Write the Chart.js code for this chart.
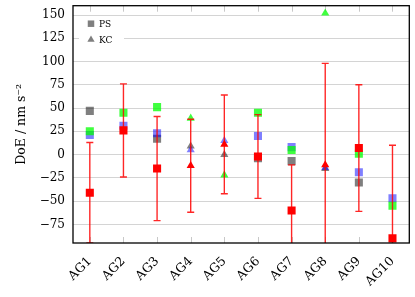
<!DOCTYPE html>
<html>
<head>
<meta charset="utf-8">
<script src="https://cdn.jsdelivr.net/npm/chart.js@4.4.0/dist/chart.umd.min.js"></script>
<style>
  html, body { margin: 0; padding: 0; background: #fff; }
  #wrap { width: 415px; height: 297px; position: relative; }
</style>
</head>
<body>
<div id="wrap"><canvas id="doeChart"></canvas></div>
<script>
// categories and which method each group belongs to (PS = squares, KC = triangles)
const categories = ['AG1', 'AG2', 'AG3', 'AG4', 'AG5', 'AG6', 'AG7', 'AG8', 'AG9', 'AG10'];
const method = ['PS', 'PS', 'PS', 'KC', 'KC', 'PS', 'PS', 'KC', 'PS', 'PS'];

// values (nm s^-2)
const grayValues = [47, null, 17, 9, 0, -4, -7, -15, -30, null];
const blueValues = [21, 31, 23, 5, 15, 20, 8, -14, -19, -47];
const greenValues = [25, 45, 51, 39, -22, 45, 5, 152, 1, -55];
const redValues = [-41, 26, -15, -12, 11, -2, -60, -11, 7, -90];
const redError = [54, 50, 56, 50, 53, 45, 49, 109, 68, 100];

const yMin = -95;
const yMax = 160;
const yStep = 25;

Chart.defaults.font.family = "'DejaVu Serif', serif";
Chart.defaults.color = '#000';

const styles = method.map(m => m === 'PS' ? 'rect' : 'triangle');
const radii = method.map(m => m === 'PS' ? 5.7 : 4.7);

function series(label, data, color, order) {
    return {
        label: label,
        data: data,
        showLine: false,
        pointStyle: styles,
        pointRadius: radii,
        pointHoverRadius: radii,
        pointBorderWidth: 0,
        backgroundColor: color,
        borderColor: color,
        order: order
    };
}

// red error bars, drawn through the scales
const errorBars = {
    id: 'errorBars',
    afterDatasetsDraw(chart) {
        const { ctx, chartArea, scales: { x, y } } = chart;
        ctx.save();
        ctx.beginPath();
        ctx.rect(chartArea.left, chartArea.top, chartArea.right - chartArea.left, chartArea.bottom - chartArea.top);
        ctx.clip();
        ctx.strokeStyle = 'rgba(255,0,0,0.85)';
        ctx.lineWidth = 1.4;
        redValues.forEach((v, i) => {
            const px = x.getPixelForValue(i);
            const top = y.getPixelForValue(v + redError[i]);
            const bot = y.getPixelForValue(v - redError[i]);
            ctx.beginPath();
            ctx.moveTo(px, top); ctx.lineTo(px, bot);
            ctx.moveTo(px - 3.5, top); ctx.lineTo(px + 3.5, top);
            ctx.moveTo(px - 3.5, bot); ctx.lineTo(px + 3.5, bot);
            ctx.stroke();
        });
        ctx.restore();
    }
};

// inner tick marks on x and the black frame
const frame = {
    id: 'frame',
    beforeDatasetsDraw(chart) {
        const { ctx, chartArea, scales: { x } } = chart;
        ctx.save();
        ctx.strokeStyle = '#c8c8c8';
        ctx.lineWidth = 1;
        x.ticks.forEach((t, i) => {
            const px = Math.round(x.getPixelForTick(i)) + 0.5;
            ctx.beginPath();
            ctx.moveTo(px, chartArea.top); ctx.lineTo(px, chartArea.top + 6);
            ctx.moveTo(px, chartArea.bottom); ctx.lineTo(px, chartArea.bottom - 6);
            ctx.stroke();
        });
        ctx.restore();
    },
    afterDraw(chart) {
        const { ctx, chartArea } = chart;
        ctx.save();
        ctx.strokeStyle = '#000';
        ctx.lineWidth = 1.3;
        ctx.strokeRect(chartArea.left, chartArea.top, chartArea.right - chartArea.left, chartArea.bottom - chartArea.top);
        ctx.restore();
    }
};

// small legend box in the top left corner
const legendBox = {
    id: 'legendBox',
    afterDatasetsDraw(chart) {
        const { ctx, chartArea } = chart;
        const x0 = chartArea.left + 6;
        const y0 = chartArea.top + 11;
        ctx.save();
        ctx.fillStyle = '#fff';
        ctx.fillRect(x0, y0, 45, 31);
        const entries = [['PS', 'rect', 4.6], ['KC', 'triangle', 4.2]];
        entries.forEach((e, i) => {
            const cy = y0 + 7 + i * 16;
            ctx.fillStyle = 'rgba(0,0,0,0.5)';
            ctx.strokeStyle = 'rgba(0,0,0,0)';
            Chart.helpers.drawPoint(ctx, { pointStyle: e[1], radius: e[2], borderWidth: 0 }, x0 + 12, cy);
            ctx.fillStyle = '#000';
            ctx.font = "9px 'DejaVu Serif', serif";
            ctx.textBaseline = 'middle';
            ctx.fillText(e[0], x0 + 20, cy + 0.5);
        });
        ctx.restore();
    }
};

new Chart(document.getElementById('doeChart'), {
    type: 'line',
    data: {
        labels: categories,
        datasets: [
            series('gray', grayValues, 'rgba(0,0,0,0.5)', 3),
            series('blue', blueValues, 'rgba(0,0,255,0.5)', 2),
            series('green', greenValues, 'rgba(0,255,0,0.75)', 1),
            series('red', redValues, '#ff0000', 0)
        ]
    },
    options: {
        responsive: true,
        maintainAspectRatio: false,
        animation: false,
        layout: { padding: { top: 2, right: 2, left: 0, bottom: 0 } },
        plugins: {
            legend: { display: false },
            tooltip: { enabled: false }
        },
        scales: {
            x: {
                offset: true,
                grid: { display: false, drawTicks: false },
                border: { display: false },
                ticks: {
                    maxRotation: 45,
                    minRotation: 45,
                    padding: 11,
                    font: { size: 12.5 }
                },
                afterFit: s => { s.height = 54; s.paddingLeft = 0; s.paddingRight = 0; }
            },
            y: {
                min: yMin,
                max: yMax,
                grid: { color: '#d4d4d4', lineWidth: 1, drawTicks: false },
                border: { display: false },
                ticks: {
                    stepSize: yStep,
                    includeBounds: false,
                    padding: 8,
                    font: { size: 12 },
                    callback: v => String(v).replace('-', '\u2212')
                },
                title: {
                    display: true,
                    text: 'DoE / nm s\u207B\u00B2',
                    font: { size: 12.5 },
                    padding: { top: 14, bottom: 0 }
                },
                afterFit: s => { s.width = 73; s.paddingTop = 0; s.paddingBottom = 0; }
            }
        }
    },
    plugins: [frame, errorBars, legendBox]
});
</script>
</body>
</html>
